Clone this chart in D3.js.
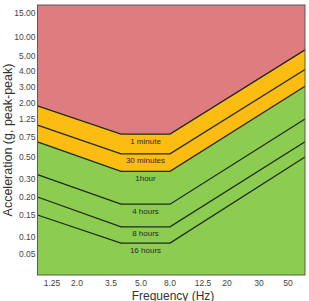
<!DOCTYPE html>
<html><head><meta charset="utf-8">
<script src="https://cdn.jsdelivr.net/npm/d3@7/dist/d3.min.js"></script>
<style>body{margin:0;background:#fff}svg{display:block}text{font-family:"Liberation Sans",Arial,sans-serif}</style>
</head><body><svg id="c" width="309" height="301"></svg>
<script>
// Frequencies (Hz) at which the exposure limit lines bend
const freqKnots = [1, 4, 8, 70];
const oneMinute   = [1.86, 0.83, 0.83, 6.6];
const thirtyMin   = [1.08, 0.54, 0.54, 4.1];
const oneHour     = [0.69, 0.37, 0.37, 3.05];
const fourHours   = [0.34, 0.18, 0.18, 1.25];
const eightHours  = [0.20, 0.123, 0.123, 0.69];
const sixteenHours= [0.15, 0.082, 0.082, 0.50];
const seriesNames = ["1 minute", "30 minutes", "1hour", "4 hours", "8 hours", "16 hours"];
const xTickValues = [1.25, 2.0, 3.5, 5.0, 8.0, 12.5, 20, 30, 50];
const xTickLabels = ["1.25", "2.0", "3.5", "5.0", "8.0", "12.5", "20", "30", "50"];
const yTickValues = [0.05, 0.10, 0.15, 0.20, 0.30, 0.50, 0.75, 1.25, 2.00, 3.00, 4.00, 5.00, 10.00, 15.00];
const yTickLabels = ["0.05", "0.10", "0.15", "0.20", "0.30", "0.50", "0.75", "1.25", "2.00", "3.00", "4.00", "5.00", "10.00", "15.00"];

const series = [oneMinute, thirtyMin, oneHour, fourHours, eightHours, sixteenHours];

// The axes are non-uniform (category-like) so piecewise scales are used
const x = d3.scaleLinear()
  .domain([1, 1.25, 2, 3.5, 5, 8, 12.5, 20, 30, 50, 70])
  .range([37.5, 52, 77, 111, 141, 170, 203, 227, 259, 288, 305]);
const y = d3.scaleLinear()
  .domain([0, 0.05, 0.1, 0.15, 0.2, 0.3, 0.5, 0.75, 1.25, 2, 3, 4, 5, 10, 15, 17])
  .range([275, 254, 237, 215, 197, 179, 157, 137, 119, 103, 87, 71, 56, 37, 13, 5]);

const svg = d3.select("#c");
const X0 = x.range()[0], X1 = x.range()[x.range().length - 1];
const Y0 = y.range()[0], Y1 = y.range()[y.range().length - 1];
const yTop = y.domain()[y.domain().length - 1];

svg.append("rect").attr("x", X0).attr("y", Y1).attr("width", X1 - X0).attr("height", Y0 - Y1)
  .attr("fill", "#8ccc50");

const pts = arr => arr.map((v, i) => [freqKnots[i], v]);
const area = d3.area().x(d => x(d[0])).y0(d => y(d[1])).y1(() => y(yTop));
svg.append("path").datum(pts(oneHour)).attr("d", area).attr("fill", "#fcbc12");
svg.append("path").datum(pts(oneMinute)).attr("d", area).attr("fill", "#de7c80");

const line = d3.line().x(d => x(d[0])).y(d => y(d[1]));
series.forEach(s => {
  svg.append("path").datum(pts(s)).attr("d", line)
    .attr("fill", "none").attr("stroke", "#1f2a18").attr("stroke-width", 1.3);
});

// line labels under the flat part
series.forEach((s, i) => {
  svg.append("text").attr("x", (x(freqKnots[1]) + x(freqKnots[2])) / 2)
    .attr("y", y(s[1]) + 9.5)
    .attr("text-anchor", "middle").attr("font-size", 8).attr("fill", "#2a2a2a")
    .text(seriesNames[i]);
});

// frame
svg.append("rect").attr("x", X0).attr("y", Y1).attr("width", X1 - X0).attr("height", Y0 - Y1)
  .attr("fill", "none").attr("stroke", "#5a5a5a").attr("stroke-width", 1);

// tick labels
yTickValues.forEach((v, i) => {
  svg.append("text").attr("x", 35.5).attr("y", y(v) + 3)
    .attr("text-anchor", "end").attr("font-size", 8.5).attr("fill", "#444").text(yTickLabels[i]);
});
xTickValues.forEach((v, i) => {
  svg.append("text").attr("x", x(v)).attr("y", 286)
    .attr("text-anchor", "middle").attr("font-size", 8.5).attr("fill", "#444").text(xTickLabels[i]);
});

svg.append("text").attr("x", 173).attr("y", 299.5).attr("text-anchor", "middle")
  .attr("font-size", 12).attr("fill", "#333").text("Frequency (Hz)");
svg.append("text").attr("transform", "translate(11.5,140) rotate(-90)").attr("text-anchor", "middle")
  .attr("font-size", 12.5).attr("fill", "#333").text("Acceleration (g, peak-peak)");
</script></body></html>
